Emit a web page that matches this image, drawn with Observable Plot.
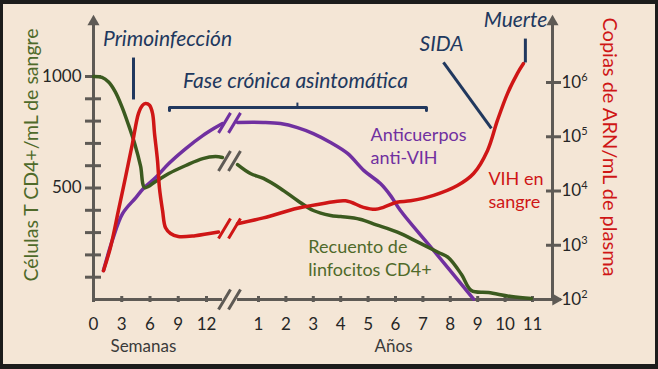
<!DOCTYPE html>
<html><head><meta charset="utf-8">
<script src="https://cdn.jsdelivr.net/npm/d3@7"></script>
<script src="https://cdn.jsdelivr.net/npm/@observablehq/plot@0.6"></script>
<style>
html,body{margin:0;padding:0;background:#F4E6D6;}
#wrap{position:relative;width:658px;height:369px;overflow:hidden;background:#F4E6D6;}
#wrap svg{position:absolute;left:0;top:0;}
#wrap .border{position:absolute;left:0;top:0;right:0;bottom:0;border:3px solid #1c1c1c;border-top-width:4px;border-bottom-width:5px;box-sizing:border-box;pointer-events:none;z-index:2}
</style></head><body><div id="wrap"><div class="border"></div></div>
<script>
// ---- tick labels ----
const weekTicks = [0, 3, 6, 9, 12];
const yearTicks = [1, 2, 3, 4, 5, 6, 7, 8, 9, 10, 11];
const cd4Ticks = [100, 200, 300, 400, 500, 600, 700, 800, 900, 1000];
const cd4TickLabels = ["", "", "", "", "500", "", "", "", "", "1000"];
const rnaTicks = [1e2, 1e3, 1e4, 1e5, 1e6];
const rnaTickLabels = ["10^2", "10^3", "10^4", "10^5", "10^6"];

// ---- series: [weeks, value] before the break, [years, value] after it ----
const cd4Weeks = [[0,1000],[0.9,996],[1.6,975],[2.3,932],[3.0,866],[3.7,785],[4.4,695],[5.0,598],[5.45,502],[6.6,529],[8.0,565],[9.8,601],[11.6,632],[18.9,641],[24.3,637]];
const cd4Years = [[0.69,605],[0.88,565],[1.18,543],[1.8,498],[2.42,444],[3.0,399],[3.63,377],[4.0,372],[4.7,360],[5.3,335],[6.07,302],[6.84,256],[7.57,211],[7.93,188],[8.41,112],[8.77,40],[9.39,31],[10.23,13],[10.96,4]];
const abWeeks = [[1.06,130],[2.0,265],[3.1,386],[4.5,457],[5.3,498],[6.6,547],[8.0,610],[9.8,677],[11.6,735],[18.9,771],[24.3,789]];
const abYears = [[0.69,794],[1.18,794],[1.8,789],[2.42,771],[3.0,744],[3.63,704],[4.25,655],[4.85,578],[5.45,520],[5.82,466],[6.18,399],[7.39,220],[8.85,2]];
const rnaWeeks = [[1.06,340],[1.8,910],[2.65,4400],[3.4,18000],[4.14,76000],[4.78,270000],[5.2,380000],[5.52,410000],[5.95,380000],[6.27,270000],[6.48,115000],[6.8,36000],[7.0,11500],[7.33,4400],[7.65,2100],[8.18,1650],[9.0,1450],[10.8,1500],[21.2,1750]];
const rnaYears = [[0.69,2500],[1.18,3200],[2.42,4800],[3.37,5900],[4.18,6600],[4.83,5000],[5.27,4600],[5.56,5000],[6.05,6200],[6.55,6600],[7.39,8300],[8.26,12600],[8.85,21000],[9.36,56000],[9.72,200000],[10.09,630000],[10.45,1480000],[10.67,2240000]];

// ---- colours ----
const GRAY = "#5E5A55", NAVY = "#21385E", GREEN = "#3B5A1F", PURPLE = "#7030A0", RED = "#CF1616";
const GREEN_TXT = "#4F6A2A";

// weeks-equivalent time axis, years = 52 weeks
const WK = 52;
const RNA_DECADE = 973 / 4;                 // right axis: one decade in left-axis units
const rnaY = c => (Math.log10(c) - 2) * RNA_DECADE;

const rows = (wk, yr, f = v => v) => [
  ...wk.map(([w, v]) => ({t: w, v: f(v), seg: "a"})),
  ...yr.map(([y, v]) => ({t: y * WK, v: f(v), seg: "b"}))
];
const cd4 = rows(cd4Weeks, cd4Years);
const ab = rows(abWeeks, abYears);
const rna = rows(rnaWeeks, rnaYears, rnaY);

const BREAK_T = 29.7;
const breakSymbol = {
  draw(ctx, size) {
    const r = Math.sqrt(size / Math.PI);
    const h = r, w = r * 0.6, o = r * 0.5;
    for (const c of [-o, o]) { ctx.moveTo(c - w, h); ctx.lineTo(c + w, -h); }
  }
};

const xTicks = [...weekTicks, ...yearTicks.map(y => y * WK)];
const xLabels = new Map(xTicks.map((t, i) => [t, String([...weekTicks, ...yearTicks][i])]));
const cd4LabelMap = new Map(cd4Ticks.map((t, i) => [t, cd4TickLabels[i]]));
const rnaTickY = rnaTicks.map(rnaY);
const rnaLabelMap = new Map(rnaTickY.map((t, i) => [t, rnaTickLabels[i]]));

const Y_TOP = 1245, X_END = 11.85 * WK, RIGHT_AXIS_T = 11.73 * WK;
const GAP_A = 24.3, GAP_B = 0.69 * WK;

const annotations = [
  {text: "Primoinfección", t: 7.86, v: 1166},
  {text: "Fase crónica asintomática", t: 2.35 * WK, v: 978},
  {text: "SIDA", t: 7.68 * WK, v: 1143},
  {text: "Muerte", t: 10.38 * WK, v: 1251}
];
const pointers = [
  {t1: 4.25, v1: 1085, t2: 4.25, v2: 897},
  {t1: 7.75 * WK, v1: 1063, t2: 9.50 * WK, v2: 767},
  {t1: 10.74 * WK, v1: 1170, t2: 10.74 * WK, v2: 1063}
];
const bracket = [{t: 8.07, v: 848}, {t: 8.07, v: 861}, {t: 7.13 * WK, v: 861}, {t: 7.13 * WK, v: 848}];
const bracketMid = [{t1: 2.42 * WK, v1: 861, t2: 2.42 * WK, v2: 883}];

const FONT = "Lato, 'Open Sans', 'DejaVu Sans', sans-serif";

const plot = Plot.plot({
  width: 658, height: 369,
  marginLeft: 101, marginRight: 113, marginTop: 20, marginBottom: 73,
  style: {background: "transparent", fontFamily: FONT, fontSize: "17px", color: "#262626", overflow: "visible"},
  x: {type: "linear", domain: [0, 12, 52, 572], range: [93, 206, 258, 532]},
  y: {type: "linear", domain: [0, 1000], range: [299, 76]},
  marks: [
    // axes lines
    Plot.ruleX([0], {y1: () => -12, y2: () => Y_TOP, stroke: GRAY, strokeWidth: 3}),
    Plot.ruleX([RIGHT_AXIS_T], {y1: () => 0, y2: () => Y_TOP, stroke: GRAY, strokeWidth: 3}),
    Plot.ruleY([0], {x1: () => 0, x2: () => GAP_A, stroke: GRAY, strokeWidth: 3}),
    Plot.ruleY([0], {x1: () => GAP_B, x2: () => X_END, stroke: GRAY, strokeWidth: 3}),
    Plot.dot([{t: 0, v: Y_TOP}, {t: RIGHT_AXIS_T, v: Y_TOP}], {x: "t", y: "v", symbol: "triangle", r: 4.5, fill: GRAY}),
    Plot.dot([{t: X_END, v: 0}], {x: "t", y: "v", symbol: "triangle", r: 4.5, fill: GRAY, rotate: 90}),
    Plot.dot([{t: BREAK_T, v: 0}], {x: "t", y: "v", symbol: breakSymbol, r: 10, stroke: GRAY, strokeWidth: 3, fill: "none"}),
    Plot.axisX(xTicks, {anchor: "bottom", tickSize: 6, tickPadding: 15, tickFormat: d => xLabels.get(d), stroke: GRAY, strokeWidth: 3, fill: "#262626", fontSize: 17, label: null}),
    Plot.axisY(cd4Ticks, {anchor: "left", tickSize: 16, tickPadding: 4, tickFormat: d => cd4LabelMap.get(d), stroke: GRAY, strokeWidth: 3, fill: "#262626", fontSize: 17, label: null}),
    Plot.axisY(rnaTickY, {anchor: "right", tickSize: 15, tickPadding: 1, tickFormat: d => rnaLabelMap.get(d), stroke: GRAY, strokeWidth: 3, fill: "#262626", fontSize: 17, label: null}),
    // curves
    Plot.line(ab, {x: "t", y: "v", z: "seg", stroke: PURPLE, strokeWidth: 3.5, curve: "catmull-rom"}),
    Plot.line(cd4, {x: "t", y: "v", z: "seg", stroke: GREEN, strokeWidth: 3.5, curve: "catmull-rom"}),
    Plot.line(rna, {x: "t", y: "v", z: "seg", stroke: RED, strokeWidth: 3.5, curve: "catmull-rom"}),
    Plot.dot([{t: BREAK_T, v: 792}], {x: "t", y: "v", symbol: breakSymbol, r: 10, stroke: PURPLE, strokeWidth: 3, fill: "none"}),
    Plot.dot([{t: BREAK_T, v: 621}], {x: "t", y: "v", symbol: breakSymbol, r: 10, stroke: GRAY, strokeWidth: 3, fill: "none"}),
    Plot.dot([{t: BREAK_T, v: rnaY(2040)}], {x: "t", y: "v", symbol: breakSymbol, r: 10, stroke: RED, strokeWidth: 3, fill: "none"}),
    // annotations
    Plot.link(pointers, {x1: "t1", y1: "v1", x2: "t2", y2: "v2", stroke: NAVY, strokeWidth: 3}),
    Plot.line(bracket, {x: "t", y: "v", stroke: NAVY, strokeWidth: 3}),
    Plot.link(bracketMid, {x1: "t1", y1: "v1", x2: "t2", y2: "v2", stroke: NAVY, strokeWidth: 2}),
    Plot.text(annotations, {x: "t", y: "v", text: "text", fill: NAVY, fontSize: 21, fontStyle: "italic"}),
    Plot.text([{text: "Anticuerpos\nanti-VIH", t: 5.09 * WK, v: 693}], {x: "t", y: "v", text: "text", fill: PURPLE, fontSize: 18, textAnchor: "start", lineHeight: 1.32}),
    Plot.text([{text: "VIH en\nsangre", t: 9.39 * WK, v: 495}], {x: "t", y: "v", text: "text", fill: RED, fontSize: 18, textAnchor: "start", lineHeight: 1.25}),
    Plot.text([{text: "Recuento de\nlinfocitos CD4+", t: 2.82 * WK, v: 188}], {x: "t", y: "v", text: "text", fill: GREEN_TXT, fontSize: 18, textAnchor: "start", lineHeight: 1.28}),
    Plot.text([{text: "Semanas", t: 5.3, v: -213}, {text: "Años", t: 5.93 * WK, v: -213}], {x: "t", y: "v", text: "text", fill: "#3a3a3a", fontSize: 17}),
    Plot.text([{text: "Células T CD4+/mL de sangre", t: -6.58, v: 648}], {x: "t", y: "v", text: "text", fill: GREEN_TXT, fontSize: 19.5, rotate: -90}),
    Plot.text([{text: "Copias de ARN/mL de plasma", t: 13.81 * WK, v: 684}], {x: "t", y: "v", text: "text", fill: RED, fontSize: 20, rotate: 90})
  ]
});

// superscript exponents on the right axis labels
plot.querySelectorAll("text").forEach(el => {
  const m = /^10\^(\d)$/.exec(el.textContent);
  if (m) {
    el.textContent = "10";
    const ts = document.createElementNS("http://www.w3.org/2000/svg", "tspan");
    ts.setAttribute("dy", "-7");
    ts.setAttribute("font-size", "11");
    ts.textContent = m[1];
    el.appendChild(ts);
  }
});
document.getElementById("wrap").appendChild(plot);
</script>
</body></html>
